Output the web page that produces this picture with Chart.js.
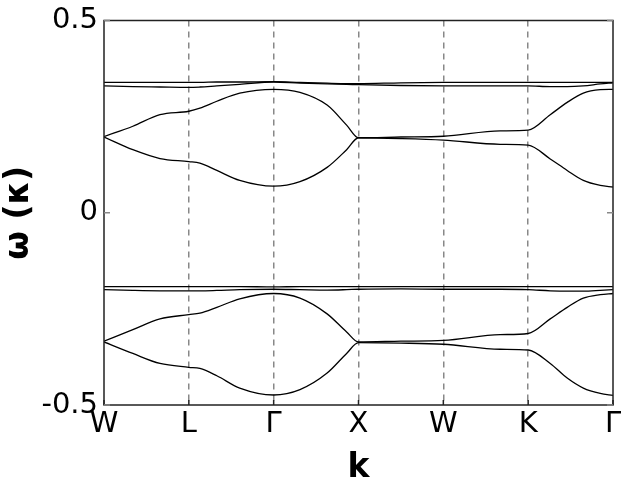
<!DOCTYPE html>
<html><head><meta charset="utf-8">
<script src="https://cdn.jsdelivr.net/npm/chart.js@4"></script>
<style>html,body{margin:0;padding:0;background:#fff}#wrap{width:640px;height:480px}</style>
</head><body><div id="wrap"><canvas id="c" width="640" height="480"></canvas></div>
<script>
// k-path positions (W=0, L=1, Γ=2, X=3, W=4, K=5, Γ=6)
const kPath   = [0, 0.34, 0.66, 1, 1.13, 1.33, 1.6, 2, 2.31, 2.63, 2.86, 3, 3.5, 4, 4.67, 5, 5.26, 5.46, 5.65, 5.85, 6];
const kLabels = ['W', 'L', 'Γ', 'X', 'W', 'K', 'Γ'];
const yTicks  = [-0.5, 0, 0.5];

// upper group
const upperF1 = [0.339, 0.339, 0.339, 0.339, 0.339, 0.340, 0.340, 0.341, 0.339, 0.337, 0.336, 0.336, 0.338, 0.339, 0.339, 0.339, 0.339, 0.339, 0.339, 0.339, 0.339];
const upperF2 = [0.330, 0.328, 0.327, 0.326, 0.327, 0.330, 0.334, 0.340, 0.337, 0.335, 0.334, 0.333, 0.331, 0.330, 0.330, 0.330, 0.328, 0.328, 0.330, 0.335, 0.338];
const upperA  = [0.198, 0.225, 0.255, 0.264, 0.272, 0.290, 0.311, 0.321, 0.313, 0.280, 0.228, 0.195, 0.197, 0.199, 0.213, 0.215, 0.255, 0.287, 0.311, 0.320, 0.321];
const upperB  = [0.197, 0.164, 0.141, 0.133, 0.129, 0.110, 0.084, 0.069, 0.081, 0.118, 0.164, 0.195, 0.193, 0.189, 0.178, 0.176, 0.140, 0.110, 0.084, 0.071, 0.067];
// lower group
const lowerF1 = [-0.192, -0.192, -0.192, -0.192, -0.192, -0.192, -0.192, -0.193, -0.192, -0.192, -0.192, -0.192, -0.192, -0.192, -0.192, -0.192, -0.192, -0.192, -0.192, -0.192, -0.192];
const lowerF2 = [-0.200, -0.202, -0.203, -0.203, -0.203, -0.202, -0.200, -0.199, -0.200, -0.201, -0.200, -0.199, -0.198, -0.199, -0.199, -0.200, -0.203, -0.204, -0.204, -0.202, -0.200];
const lowerA  = [-0.334, -0.304, -0.276, -0.265, -0.261, -0.246, -0.224, -0.210, -0.222, -0.263, -0.310, -0.336, -0.334, -0.332, -0.317, -0.314, -0.276, -0.246, -0.222, -0.213, -0.210];
const lowerB  = [-0.336, -0.366, -0.392, -0.402, -0.405, -0.424, -0.456, -0.474, -0.460, -0.417, -0.366, -0.338, -0.339, -0.342, -0.355, -0.357, -0.392, -0.430, -0.456, -0.470, -0.475];

const bands = [upperF1, upperF2, upperA, upperB, lowerF1, lowerF2, lowerA, lowerB];

const datasets = bands.map(b => ({
  data: kPath.map((k, i) => ({x: k, y: b[i]})),
  borderColor: '#000',
  borderWidth: 1.3,
  pointRadius: 0,
  fill: false,
  cubicInterpolationMode: 'monotone'
}));

const framePlugin = {
  id: 'frame',
  afterDraw(chart) {
    const {ctx, chartArea: a, scales: {x, y}} = chart;
    ctx.save();
    const line = (x1, y1, x2, y2) => { ctx.beginPath(); ctx.moveTo(x1, y1); ctx.lineTo(x2, y2); ctx.stroke(); };
    ctx.strokeStyle = '#222';
    ctx.lineWidth = 1.5;
    ctx.strokeRect(a.left, a.top, a.right - a.left, a.bottom - a.top);
    kLabels.forEach((_, i) => {
      const px = x.getPixelForValue(i);
      line(px, a.bottom, px, a.bottom - 5);
    });
    ctx.strokeStyle = '#888';
    yTicks.forEach(v => {
      const py = y.getPixelForValue(v);
      line(a.left, py, a.left + 6, py);
      line(a.right, py, a.right - 6, py);
    });
    ctx.restore();
  }
};

new Chart(document.getElementById('c'), {
  type: 'line',
  data: {datasets},
  options: {
    responsive: false,
    animation: false,
    devicePixelRatio: 1,
    layout: {padding: {top: 16, right: 27, left: 0, bottom: 0}},
    plugins: {legend: {display: false}, tooltip: {enabled: false}},
    scales: {
      x: {
        type: 'linear', min: 0, max: 6,
        afterBuildTicks: s => { s.ticks = kLabels.map((_, i) => ({value: i})); },
        afterFit: s => { s.height = 75; },
        ticks: {
          callback: (v) => kLabels[Math.round(v)],
          font: {family: 'DejaVu Sans', size: 29, lineHeight: 1},
          color: '#000', padding: 5, maxRotation: 0, autoSkip: false
        },
        grid: {
          drawTicks: false, lineWidth: 1.5,
          color: c => (c.index > 0 && c.index < 6) ? '#888' : 'rgba(0,0,0,0)'
        },
        border: {display: false, dash: [6, 5]},
        title: {display: true, text: 'k', color: '#000', padding: 0,
                font: {family: 'DejaVu Sans', size: 33, weight: 'bold', lineHeight: 0.72}}
      },
      y: {
        type: 'linear', min: -0.5, max: 0.5,
        afterBuildTicks: s => { s.ticks = yTicks.map(v => ({value: v})); },
        afterFit: s => { s.width = 104; },
        ticks: {
          callback: v => String(v),
          font: {family: 'DejaVu Sans', size: 29, lineHeight: 1},
          color: '#000', padding: 6
        },
        grid: {display: false, drawTicks: false},
        border: {display: false},
        title: {display: true, text: 'ω (κ)', color: '#000', padding: 0,
                font: {family: 'DejaVu Sans', size: 33, weight: 'bold', lineHeight: 1.2}}
      }
    }
  },
  plugins: [framePlugin]
});
</script>
</body></html>
